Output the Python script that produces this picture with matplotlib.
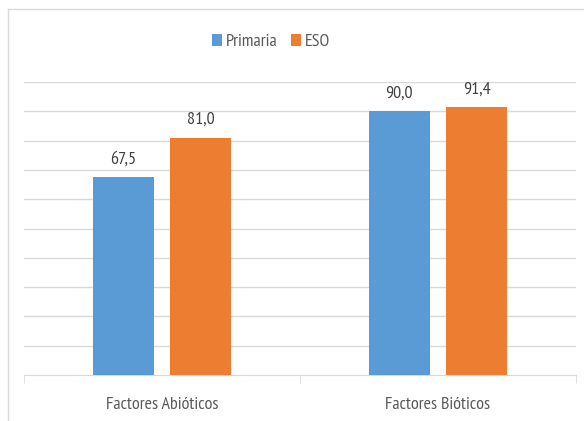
import numpy as np
import matplotlib.pyplot as plt
from matplotlib.lines import Line2D

categories = ["Factores Abióticos", "Factores Bióticos"]
primaria = [67.5, 90.0]
eso = [81.0, 91.4]
series_names = ["Primaria", "ESO"]
colors = ["#5B9BD5", "#ED7D31"]


def fmt(v):
    return f"{v:.1f}".replace(".", ",")


def main():
    plt.rcParams['font.family'] = ['PT Sans Narrow', 'DejaVu Sans']
    fig = plt.figure(figsize=(5.84, 4.21), dpi=100)
    ax = fig.add_axes([24 / 584, 1 - 375 / 421, 552 / 584, 293 / 421])

    x = np.arange(len(categories))
    off = 0.141
    w = 0.221
    for vals, name, c, d in zip([primaria, eso], series_names, colors, [-off, off]):
        bars = ax.bar(x + d, vals, w, color=c, label=name, zorder=3)
        for b, v in zip(bars, vals):
            ax.annotate(fmt(v), (b.get_x() + b.get_width() / 2, v),
                        xytext=(0, 7), textcoords="offset points",
                        ha="center", va="bottom", fontsize=13, color="#404040")

    ax.set_xlim(-0.5, 1.5)
    ax.set_ylim(0, 100)
    ax.set_yticks(np.arange(10, 101, 10))
    ax.yaxis.grid(True, color="#D9D9D9", linewidth=1, zorder=0)
    ax.tick_params(axis="y", length=0, labelleft=False)
    ax.set_xticks(x)
    ax.set_xticklabels(categories, fontsize=13, color="#595959")
    ax.set_xticks([-0.5, 0.5, 1.5], minor=True)
    ax.tick_params(axis="x", which="major", length=0, pad=16)
    ax.tick_params(axis="x", which="minor", length=6, color="#D9D9D9")
    for s in ["top", "right", "left"]:
        ax.spines[s].set_visible(False)
    ax.spines["bottom"].set_color("#D9D9D9")

    ax.legend(loc="center", bbox_to_anchor=(271 / 584, 1 - 42 / 421), bbox_transform=fig.transFigure,
              ncol=2, frameon=False, fontsize=13, handlelength=0.55, handleheight=0.7,
              handletextpad=0.25, columnspacing=0.7, labelcolor="#595959")

    # chart border
    fig.add_artist(Line2D([8 / 584, 8 / 584], [0, 1 - 9 / 421], color="#D9D9D9", lw=1, transform=fig.transFigure))
    fig.add_artist(Line2D([8 / 584, 1], [1 - 9 / 421, 1 - 9 / 421], color="#D9D9D9", lw=1, transform=fig.transFigure))

    fig.savefig("out.png", dpi=100)


if __name__ == "__main__":
    main()
